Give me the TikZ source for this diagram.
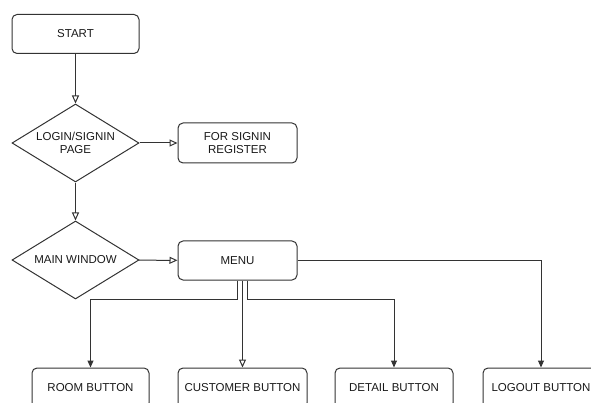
\documentclass[tikz,border=0pt]{standalone}
\usepackage{fontspec}
\setmainfont{Liberation Sans}
\usetikzlibrary{shapes.geometric,arrows.meta}

\begin{document}
\begin{tikzpicture}[x=1pt,y=-1pt,
    font=\fontsize{11.5}{13}\selectfont,
    line width=1pt,
    box/.style={draw=black!80,rounded corners=5pt,minimum height=39pt,align=center,inner sep=0pt,text=black!90},
    choice/.style={draw=black!80,diamond,aspect=1.63,minimum width=127pt,minimum height=78pt,inner sep=0pt,align=center,text=black!90},
    openarrow/.style={draw=black!80,-{Triangle[open,length=8pt,width=7pt]}},
    fullarrow/.style={draw=black!80,-{Triangle[length=7pt,width=6pt]}},
]
    \clip (0,0) rectangle (591,403);

    % top of the chart
    \node [box,minimum width=127pt] (start) at (75.5,34) {START};
    \node [choice] (login) at (75.5,143) {LOGIN/SIGNIN\\PAGE};
    \node [box,minimum width=119pt,minimum height=40pt] (signin) at (237.5,143) {FOR SIGNIN\\REGISTER};
    \node [choice] (mainwin) at (75.5,260) {MAIN WINDOW};
    \node [box,minimum width=119pt] (menu) at (237.5,260.5) {MENU};

    % buttons, cut off at the bottom
    \node [box,minimum width=117pt,minimum height=40pt] (room) at (90.5,388) {ROOM BUTTON};
    \node [box,minimum width=129pt,minimum height=40pt] (customer) at (242.5,388) {CUSTOMER BUTTON};
    \node [box,minimum width=118pt,minimum height=40pt] (detail) at (394,388) {DETAIL BUTTON};
    \node [box,minimum width=116pt,minimum height=40pt] (logout) at (541,388) {LOGOUT BUTTON};

    \draw [openarrow] (start) -- (login);
    \draw [openarrow] (login) -- (signin);
    \draw [openarrow] (login) -- (mainwin);
    \draw [openarrow] (mainwin) -- (menu);

    \draw [fullarrow] ([xshift=-0.5pt]menu.south) -- ++(0,19) -| (room);
    \draw [openarrow] (menu.south -| customer.north) -- (customer.north);
    \draw [fullarrow] ([xshift=9.5pt]menu.south) -- ++(0,19) -| (detail);
    \draw [fullarrow] (menu) -| (logout);

\end{tikzpicture}
\end{document}
